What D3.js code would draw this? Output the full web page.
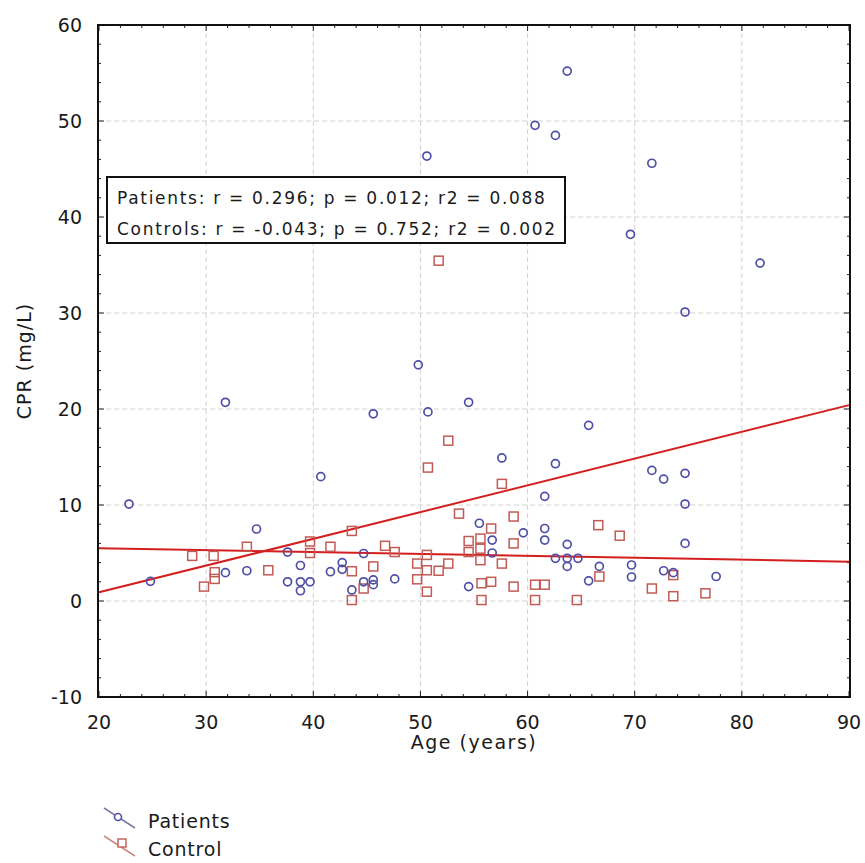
<!DOCTYPE html>
<html>
<head>
<meta charset="utf-8">
<script src="https://cdnjs.cloudflare.com/ajax/libs/d3/7.8.5/d3.min.js"></script>
<style>
  body { margin: 0; background: #fff; }
  text { font-family: "DejaVu Sans", Verdana, sans-serif; fill: #1a1a1a; }
</style>
</head>
<body>
<div id="chart"></div>
<script>
var width = 865,
    height = 863;

// patients: [age, CPR]
var patients = [
  [22.8,10.1],[24.8,2.05],[31.8,20.7],[31.8,2.95],[33.8,3.15],[34.7,7.5],[37.6,5.1],[37.6,2.0],
  [38.8,3.7],[38.8,2.0],[39.7,2.0],[38.8,1.07],[40.7,12.95],[41.6,3.05],[42.7,4.0],[42.7,3.3],
  [43.6,1.15],[44.7,4.95],[44.7,2.0],[45.6,2.2],[45.6,1.7],[45.6,19.5],[47.6,2.3],[49.8,24.6],
  [50.6,46.35],[50.7,19.7],[54.5,20.7],[54.5,1.5],[55.5,8.1],[56.7,6.35],[56.7,5.0],[57.6,14.9],
  [59.6,7.1],[60.7,49.55],[61.6,7.55],[61.6,6.35],[61.6,10.9],[62.6,48.5],[62.6,14.3],[63.7,55.2],
  [63.7,5.9],[62.6,4.45],[63.7,4.45],[64.7,4.45],[63.7,3.6],[66.7,3.6],[65.7,2.1],[65.7,18.3],
  [69.7,3.75],[69.7,2.5],[69.6,38.2],[71.6,45.6],[71.6,13.6],[72.7,12.7],[72.7,3.15],[73.6,2.95],
  [74.7,13.3],[74.7,10.1],[74.7,6.0],[74.7,30.1],[77.6,2.55],[81.7,35.2]
];

// controls: [age, CPR]
var controls = [
  [28.7,4.7],[30.7,4.7],[29.8,1.5],[30.8,3.0],[30.8,2.3],[33.8,5.65],[35.8,3.2],[39.7,6.2],
  [39.7,5.0],[41.6,5.65],[43.6,7.3],[43.6,3.1],[43.6,0.1],[44.7,1.3],[45.6,3.6],[46.7,5.75],
  [47.6,5.1],[49.7,3.9],[49.7,2.26],[50.6,4.8],[50.6,3.2],[50.6,0.97],[51.7,3.15],[52.6,3.9],
  [50.7,13.9],[52.6,16.7],[51.7,35.45],[53.6,9.1],[54.5,6.25],[54.5,5.1],[55.6,6.5],[55.6,5.45],
  [55.6,4.25],[55.7,1.85],[55.7,0.1],[56.6,7.55],[56.6,2.0],[57.6,12.2],[57.6,3.9],[58.7,8.8],
  [58.7,6.0],[58.7,1.5],[60.7,1.7],[61.6,1.7],[60.7,0.1],[64.6,0.1],[66.6,7.9],[66.7,2.55],
  [68.6,6.8],[71.6,1.3],[73.6,2.7],[73.6,0.5],[76.6,0.8]
];

// fitted lines as [intercept, slope]
var patientFit = [-4.67, 0.2786];
var controlFit = [5.9, -0.02];

var statLines = [
  "Patients: r = 0.296; p = 0.012; r2 = 0.088",
  "Controls: r = -0.043; p = 0.752; r2 = 0.002"
];
var legendNames = ["Patients", "Control"];

var xTicks = [20, 30, 40, 50, 60, 70, 80, 90];
var yTicks = [-10, 0, 10, 20, 30, 40, 50, 60];

var blue = "#4f4fa6",
    red = "#c25a55",
    lineRed = "#d41f1f";

var plotL = 98, plotR = 850, plotT = 25, plotB = 697;

var x = d3.scaleLinear().domain([20, 90]).range([plotL + 1, plotR - 1]);
var y = d3.scaleLinear().domain([-10, 60]).range([plotB, plotT]);

var svg = d3.select("#chart").append("svg")
    .attr("width", width)
    .attr("height", height);

// grid
var grid = svg.append("g").attr("stroke", "#d2d2d2").attr("stroke-dasharray", "5,3").attr("stroke-width", 1);
grid.selectAll(".vg").data(xTicks.slice(1, -1)).enter().append("line")
    .attr("x1", function(d) { return x(d); }).attr("x2", function(d) { return x(d); })
    .attr("y1", plotT).attr("y2", plotB);
grid.selectAll(".hg").data(yTicks.slice(1, -1)).enter().append("line")
    .attr("y1", function(d) { return y(d); }).attr("y2", function(d) { return y(d); })
    .attr("x1", plotL).attr("x2", plotR);

// ticks, inward on all four sides
var xMinor = d3.range(20, 90.1, 2), yMinor = d3.range(-10, 60.1, 2);
function drawTicks() {
  var g = svg.append("g").attr("stroke", "#222").attr("stroke-width", 1);
  function len(d) { return d % 10 === 0 ? 6 : 3; }
  xMinor.forEach(function(d) {
    g.append("line").attr("x1", x(d)).attr("x2", x(d)).attr("y1", plotB).attr("y2", plotB - len(d));
    g.append("line").attr("x1", x(d)).attr("x2", x(d)).attr("y1", plotT).attr("y2", plotT + len(d));
  });
  yMinor.forEach(function(d) {
    g.append("line").attr("y1", y(d)).attr("y2", y(d)).attr("x1", plotL).attr("x2", plotL + len(d));
    g.append("line").attr("y1", y(d)).attr("y2", y(d)).attr("x1", plotR).attr("x2", plotR - len(d));
  });
}
drawTicks();

// regression lines
function fitLine(f) {
  return [[20, f[0] + f[1] * 20], [90, f[0] + f[1] * 90]];
}
var line = d3.line().x(function(d) { return x(d[0]); }).y(function(d) { return y(d[1]); });
svg.append("path").attr("d", line(fitLine(controlFit)))
    .attr("fill", "none").attr("stroke", lineRed).attr("stroke-width", 2);
svg.append("path").attr("d", line(fitLine(patientFit)))
    .attr("fill", "none").attr("stroke", lineRed).attr("stroke-width", 2);

// points
svg.append("g").selectAll("rect").data(controls).enter().append("rect")
    .attr("x", function(d) { return x(d[0]) - 4.5; })
    .attr("y", function(d) { return y(d[1]) - 4.5; })
    .attr("width", 9).attr("height", 9)
    .attr("fill", "none").attr("stroke", red).attr("stroke-width", 1.5);

svg.append("g").selectAll("circle").data(patients).enter().append("circle")
    .attr("cx", function(d) { return x(d[0]); })
    .attr("cy", function(d) { return y(d[1]); })
    .attr("r", 4)
    .attr("fill", "none").attr("stroke", blue).attr("stroke-width", 1.7);

// frame
svg.append("rect").attr("x", plotL).attr("y", plotT)
    .attr("width", plotR - plotL).attr("height", plotB - plotT)
    .attr("fill", "none").attr("stroke", "#111").attr("stroke-width", 2);

// tick labels
svg.selectAll(".xl").data(xTicks).enter().append("text")
    .attr("x", function(d) { return x(d); }).attr("y", 729)
    .attr("text-anchor", "middle").style("font-size", "19px")
    .text(function(d) { return d; });
svg.selectAll(".yl").data(yTicks).enter().append("text")
    .attr("x", 82).attr("y", function(d) { return y(d) + 7; })
    .attr("text-anchor", "end").style("font-size", "19px")
    .text(function(d) { return d; });

// axis titles
svg.append("text").attr("x", 474).attr("y", 749).attr("text-anchor", "middle")
    .style("font-size", "19px").style("letter-spacing", "1.5px").text("Age (years)");
svg.append("text").attr("transform", "translate(31,361) rotate(-90)").attr("text-anchor", "middle")
    .style("font-size", "19px").style("letter-spacing", "1px").text("CPR (mg/L)");

// stats box
svg.append("rect").attr("x", 107).attr("y", 177).attr("width", 458).attr("height", 66)
    .attr("fill", "#fff").attr("stroke", "#111").attr("stroke-width", 2);
svg.selectAll(".st").data(statLines).enter().append("text")
    .attr("x", 117).attr("y", function(d, i) { return 204 + i * 31; })
    .style("font-size", "17px").style("letter-spacing", "1.7px")
    .text(function(d) { return d; });

// legend
var lg = svg.append("g");
legendNames.forEach(function(name, i) {
  var oy = i * 28;
  lg.append("line").attr("x1", 104).attr("y1", 808 + oy).attr("x2", 135).attr("y2", 828 + oy)
      .attr("stroke", i === 0 ? "#7d7aa8" : "#c98a86").attr("stroke-width", 1.5);
  if (i === 0) {
    lg.append("circle").attr("cx", 118).attr("cy", 817).attr("r", 3.5)
        .attr("fill", "#fff").attr("stroke", blue).attr("stroke-width", 1.6);
  } else {
    lg.append("rect").attr("x", 118).attr("y", 839).attr("width", 8).attr("height", 8)
        .attr("fill", "#fff").attr("stroke", red).attr("stroke-width", 1.4);
  }
  lg.append("text").attr("x", 148).attr("y", 828 + oy).style("font-size", "19px")
      .style("letter-spacing", "0.8px").text(name);
});
</script>
</body>
</html>
